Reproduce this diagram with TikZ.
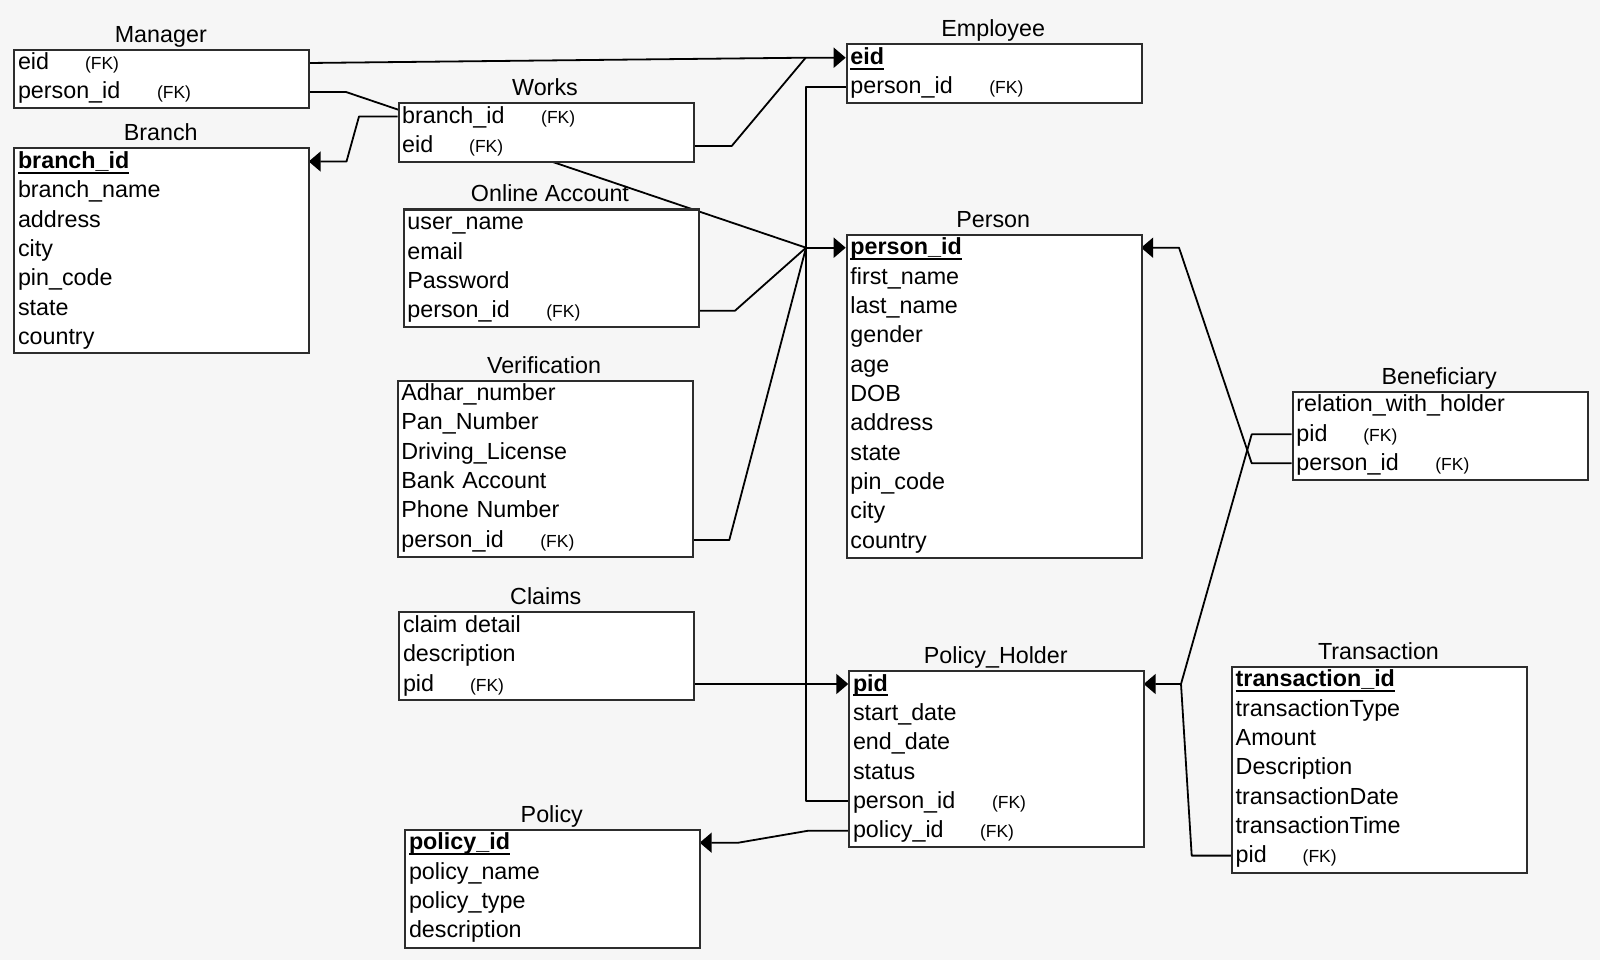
\documentclass[tikz,border=0pt]{standalone}
\usepackage{fontspec}
\setmainfont{Liberation Sans}
\usetikzlibrary{arrows.meta}
\pgfdeclarelayer{bg}
\pgfdeclarelayer{lines}
\pgfsetlayers{bg,lines,main}
\definecolor{bgc}{RGB}{246,246,246}
\definecolor{bdr}{RGB}{45,45,45}
\newcommand\attrfont{\fontsize{23.3}{28}\selectfont}
\newcommand\fkw[2]{\makebox[#2pt][l]{#1}{\fontsize{17.5}{20}\selectfont(FK)}}
\newcommand\pkey[1]{\setbox0\hbox{\bfseries #1}\rlap{\rule[-5pt]{\wd0}{1.8pt}}\box0}
\tikzset{
  tbl/.style={draw=bdr, line width=2pt, fill=white, anchor=north west, minimum width=295pt, inner sep=0pt},
  row/.style={anchor=west, minimum width=295pt, text width=286pt, inner xsep=4.5pt, inner ysep=0pt,
              minimum height=29pt, text height=17pt, text depth=3pt, align=left, font=\attrfont},
  title/.style={anchor=base, inner sep=0pt, font=\attrfont},
  link/.style={line width=1.8pt, black, line join=round},
  arr/.style={link, -{Triangle[length=12pt,width=20pt]}}
}
\begin{document}
\begin{tikzpicture}[x=1pt,y=-1pt]
\begin{pgfonlayer}{bg}
\fill[bgc] (0,0) rectangle (1600,960);
\end{pgfonlayer}
\useasboundingbox (0,0) rectangle (1600,960);

% Manager
\node[tbl, minimum height=58pt] (man) at (13.3,49) {};
\node[title] (man-t) at (160.8,42.5) {Manager};
\node[row] (man-eid) at (13.3,63) {\fkw{eid}{67}};
\node[row] (man-pid) at (13.3,92) {\fkw{person\_id}{139}};

% Branch
\node[tbl, minimum height=205pt] (br) at (13.3,147) {};
\node[title] (br-t) at (160.8,140.5) {Branch};
\node[row] (br-id) at (13.3,161.5) {\pkey{branch\_id}};
\node[row] (br-r2) at (13.3,190.8) {branch\_name};
\node[row] (br-r3) at (13.3,220.1) {address};
\node[row] (br-r4) at (13.3,249.4) {city};
\node[row] (br-r5) at (13.3,278.7) {pin\_code};
\node[row] (br-r6) at (13.3,308) {state};
\node[row] (br-r7) at (13.3,337.3) {country};

% Works
\node[tbl, minimum height=59pt] (wrk) at (397.5,102) {};
\node[title] (wrk-t) at (545,95.5) {Works};
\node[row] (wrk-bid) at (397.5,116.5) {\fkw{branch\_id}{139}};
\node[row] (wrk-eid) at (397.5,146) {\fkw{eid}{67}};

% Online Account
\node[tbl, minimum height=117.5pt] (onl) at (402.7,208.5) {};
\node[title] (onl-t) at (550,202) {Online Account};
\node[row] (onl-r1) at (402.7,222.5) {user\_name};
\node[row] (onl-r2) at (402.7,252) {email};
\node[row] (onl-r3) at (402.7,281.3) {Password};
\node[row] (onl-pid) at (402.7,310.7) {\fkw{person\_id}{139}};

% Verification
\node[tbl, minimum height=176pt] (ver) at (396.7,379.5) {};
\node[title] (ver-t) at (544,373) {Verification};
\node[row] (ver-r1) at (396.7,393.5) {Adhar\_number};
\node[row] (ver-r2) at (396.7,422.8) {Pan\_Number};
\node[row] (ver-r3) at (396.7,452.1) {Driving\_License};
\node[row] (ver-r4) at (396.7,481.4) {Bank Account};
\node[row] (ver-r5) at (396.7,510.7) {Phone Number};
\node[row] (ver-pid) at (396.7,540) {\fkw{person\_id}{139}};

% Claims
\node[tbl, minimum height=88pt] (clm) at (398.3,611) {};
\node[title] (clm-t) at (545.8,604.5) {Claims};
\node[row] (clm-r1) at (398.3,625) {claim detail};
\node[row] (clm-r2) at (398.3,654.5) {description};
\node[row] (clm-pid) at (398.3,684) {\fkw{pid}{67}};

% Policy
\node[tbl, minimum height=118pt] (pol) at (404.3,828.5) {};
\node[title] (pol-t) at (551.8,822) {Policy};
\node[row] (pol-id) at (404.3,842.7) {\pkey{policy\_id}};
\node[row] (pol-r2) at (404.3,872) {policy\_name};
\node[row] (pol-r3) at (404.3,901.3) {policy\_type};
\node[row] (pol-r4) at (404.3,930.6) {description};

% Employee
\node[tbl, minimum height=59pt] (emp) at (845.7,43.3) {};
\node[title] (emp-t) at (993.2,36.8) {Employee};
\node[row] (emp-eid) at (845.7,57.7) {\pkey{eid}};
\node[row] (emp-pid) at (845.7,86.7) {\fkw{person\_id}{139}};

% Person
\node[tbl, minimum height=322.5pt] (per) at (845.7,234) {};
\node[title] (per-t) at (993.2,227.5) {Person};
\node[row] (per-id) at (845.7,247.7) {\pkey{person\_id}};
\node[row] (per-r2) at (845.7,277) {first\_name};
\node[row] (per-r3) at (845.7,306.4) {last\_name};
\node[row] (per-r4) at (845.7,335.7) {gender};
\node[row] (per-r5) at (845.7,365) {age};
\node[row] (per-r6) at (845.7,394.4) {DOB};
\node[row] (per-r7) at (845.7,423.7) {address};
\node[row] (per-r8) at (845.7,453) {state};
\node[row] (per-r9) at (845.7,482.3) {pin\_code};
\node[row] (per-r10) at (845.7,511.7) {city};
\node[row] (per-r11) at (845.7,541) {country};

% Policy_Holder
\node[tbl, minimum height=176.5pt] (ph) at (848.3,669.5) {};
\node[title] (ph-t) at (995.8,663) {Policy\_Holder};
\node[row] (ph-id) at (848.3,684) {\pkey{pid}};
\node[row] (ph-r2) at (848.3,713.3) {start\_date};
\node[row] (ph-r3) at (848.3,742.7) {end\_date};
\node[row] (ph-r4) at (848.3,772) {status};
\node[row] (ph-per) at (848.3,801.3) {\fkw{person\_id}{139}};
\node[row] (ph-pol) at (848.3,830.7) {\fkw{policy\_id}{127}};

% Beneficiary
\node[tbl, minimum height=88.5pt] (ben) at (1291.7,390.5) {};
\node[title] (ben-t) at (1439.2,384) {Beneficiary};
\node[row] (ben-r1) at (1291.7,404.3) {relation\_with\_holder};
\node[row] (ben-pid) at (1291.7,434.3) {\fkw{pid}{67}};
\node[row] (ben-per) at (1291.7,463.3) {\fkw{person\_id}{139}};

% Transaction
\node[tbl, minimum height=205.5pt] (tr) at (1231,666) {};
\node[title] (tr-t) at (1378.5,659.5) {Transaction};
\node[row] (tr-id) at (1231,679.7) {\pkey{transaction\_id}};
\node[row] (tr-r2) at (1231,709) {transactionType};
\node[row] (tr-r3) at (1231,738.3) {Amount};
\node[row] (tr-r4) at (1231,767.6) {Description};
\node[row] (tr-r5) at (1231,797) {transactionDate};
\node[row] (tr-r6) at (1231,826.3) {transactionTime};
\node[row] (tr-pid) at (1231,855.6) {\fkw{pid}{67}};

% connectors
\begin{pgfonlayer}{lines}
\coordinate (jEmp) at (805.7,57.7);
\coordinate (jWrk) at (731.7,146);
\coordinate (jMan) at (346,92);
\coordinate (jBr1) at (359,116.5);
\coordinate (jBr2) at (346.5,161.5);
\coordinate (jPer) at (806,247.7);
\coordinate (jOnl) at (735,310.7);
\coordinate (jVer) at (729.3,540);
\coordinate (jPol1) at (808.3,830.7);
\coordinate (jPol2) at (738.3,842.7);
\coordinate (jBen1) at (1251.7,463.3);
\coordinate (jBen2) at (1179,247.7);
\coordinate (jBen3) at (1251.7,434.3);
\coordinate (jPH) at (1181,684);
\coordinate (jTr) at (1191.7,855.6);

\draw[arr] (man-eid.east) -- (jEmp) -- (emp-eid.west);
\draw[link] (wrk-eid.east) -- (jWrk) -- (jEmp);
\draw[link] (man-pid.east) -- (jMan) -- (jPer);
\draw[arr] (wrk-bid.west) -- (jBr1) -- (jBr2) -- (br-id.east);
\draw[link] (emp-pid.west) -| (jPer);
\draw[link] (ph-per.west) -| (jPer);
\draw[arr] (jPer) -- (per-id.west);
\draw[link] (onl-pid.east) -- (jOnl) -- (jPer);
\draw[link] (ver-pid.east) -- (jVer) -- (jPer);
\draw[arr] (clm-pid.east) -- (ph-id.west);
\draw[arr] (ph-pol.west) -- (jPol1) -- (jPol2) -- (pol-id.east);
\draw[arr] (ben-per.west) -- (jBen1) -- (jBen2) -- (per-id.east);
\draw[arr] (ben-pid.west) -- (jBen3) -- (jPH) -- (ph-id.east);
\draw[link] (tr-pid.west) -- (jTr) -- (jPH);
\end{pgfonlayer}
\end{tikzpicture}
\end{document}
